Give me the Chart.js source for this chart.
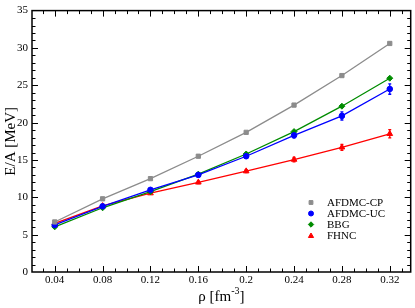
<!DOCTYPE html>
<html><head><meta charset="utf-8">
<script src="https://cdn.jsdelivr.net/npm/chart.js@4/dist/chart.umd.min.js"></script>
<style>html,body{margin:0;padding:0;background:#fff}#w{width:415px;height:308px}</style>
</head><body><div id="w"><canvas id="c" width="415" height="308"></canvas></div>
<script>
const density = [0.04, 0.08, 0.12, 0.16, 0.20, 0.24, 0.28, 0.32];
const afdmcCP = [6.7, 9.8, 12.5, 15.5, 18.7, 22.35, 26.3, 30.6];
const afdmcUC = [6.3, 8.8, 11.0, 13.0, 15.5, 18.3, 20.9, 24.5];
const afdmcUCErr = [0.05, 0.1, 0.15, 0.2, 0.25, 0.35, 0.55, 0.7];
const bbg = [6.05, 8.6, 10.75, 13.1, 15.8, 18.8, 22.2, 25.95];
const fhnc = [6.5, 8.85, 10.55, 12.0, 13.5, 15.05, 16.7, 18.5];
const fhncErr = [0.05, 0.1, 0.1, 0.15, 0.2, 0.3, 0.4, 0.55];
const xTicks = [0.04, 0.08, 0.12, 0.16, 0.2, 0.24, 0.28, 0.32];
const yTicks = [0, 5, 10, 15, 20, 25, 30, 35];
const seriesNames = ['AFDMC-CP', 'AFDMC-UC', 'BBG', 'FHNC'];

const SERIF = '"Liberation Serif", "DejaVu Serif", serif';
const pts = a => density.map((x, i) => ({x, y: a[i]}));
const ds = (label, data, color, style, r, err) => ({
  label, data: pts(data), borderColor: color, backgroundColor: color,
  pointStyle: style, pointRadius: r, pointHoverRadius: r, borderWidth: 1.3,
  pointBorderWidth: 1, tension: 0, fill: false, err
});
const datasets = [
  ds(seriesNames[0], afdmcCP, '#8c8c8c', 'rect', 3, null),
  ds(seriesNames[1], afdmcUC, '#0000ff', 'circle', 2.8, afdmcUCErr),
  ds(seriesNames[2], bbg, '#008c00', 'rectRot', 3, null),
  ds(seriesNames[3], fhnc, '#ff0000', 'triangle', 3.3, fhncErr)
];

const deco = {
  id: 'deco',
  beforeDatasetsDraw(chart) {
    const ctx = chart.ctx;
    const xs = chart.scales.x, ys = chart.scales.y;
    ctx.save();
    chart.data.datasets.forEach(d => {
      if (!d.err) return;
      ctx.strokeStyle = d.borderColor; ctx.lineWidth = 1.3;
      d.data.forEach((p, i) => {
        const px = xs.getPixelForValue(p.x);
        const y1 = ys.getPixelForValue(p.y - d.err[i]);
        const y2 = ys.getPixelForValue(p.y + d.err[i]);
        ctx.beginPath();
        ctx.moveTo(px, y1); ctx.lineTo(px, y2);
        ctx.moveTo(px - 1.5, y1); ctx.lineTo(px + 1.5, y1);
        ctx.moveTo(px - 1.5, y2); ctx.lineTo(px + 1.5, y2);
        ctx.stroke();
      });
    });
    ctx.restore();
  },
  afterDraw(chart) {
    const ctx = chart.ctx, ca = chart.chartArea;
    const xs = chart.scales.x, ys = chart.scales.y;
    ctx.save();
    ctx.strokeStyle = '#000'; ctx.lineWidth = 1.5;
    ctx.strokeRect(ca.left, ca.top, ca.right - ca.left, ca.bottom - ca.top);
    ctx.lineWidth = 1;
    ctx.beginPath();
    for (let k = 2; k <= 34; k++) {
      const v = k / 100;
      const px = Math.round(xs.getPixelForValue(v)) + 0.5;
      if (px < ca.left + 1 || px > ca.right - 1) continue;
      const len = (k % 4 === 0) ? 6 : 3.5;
      ctx.moveTo(px, ca.bottom); ctx.lineTo(px, ca.bottom - len);
      ctx.moveTo(px, ca.top); ctx.lineTo(px, ca.top + len);
    }
    for (let v = 0; v <= 35; v++) {
      const py = Math.round(ys.getPixelForValue(v)) + 0.5;
      if (py < ca.top + 1 || py > ca.bottom - 1) continue;
      const len = (v % 5 === 0) ? 6 : 3.5;
      ctx.moveTo(ca.left, py); ctx.lineTo(ca.left + len, py);
      ctx.moveTo(ca.right, py); ctx.lineTo(ca.right - len, py);
    }
    ctx.stroke();
    ctx.fillStyle = '#000';
    ctx.font = '15px ' + SERIF;
    ctx.textAlign = 'center'; ctx.textBaseline = 'middle';
    ctx.save();
    ctx.translate(11, (ca.top + ca.bottom) / 2);
    ctx.rotate(-Math.PI / 2);
    ctx.fillText('E/A [MeV]', 0, 0);
    ctx.restore();
    const main = 'ρ [fm', sup = '-3', end = ']';
    ctx.textAlign = 'left'; ctx.textBaseline = 'alphabetic';
    ctx.font = '15px ' + SERIF;
    const w1 = ctx.measureText(main).width;
    const w3 = ctx.measureText(end).width;
    ctx.font = '10px ' + SERIF;
    const w2 = ctx.measureText(sup).width;
    const x0 = (ca.left + ca.right) / 2 - (w1 + w2 + w3) / 2;
    const by = 301;
    ctx.font = '15px ' + SERIF; ctx.fillText(main, x0, by);
    ctx.font = '10px ' + SERIF; ctx.fillText(sup, x0 + w1, by - 7);
    ctx.font = '15px ' + SERIF; ctx.fillText(end, x0 + w1 + w2, by);
    ctx.font = '11px ' + SERIF; ctx.textBaseline = 'middle';
    const ly = [202.5, 213.5, 224.5, 236];
    chart.data.datasets.forEach((d, i) => {
      const sx = 311, sy = ly[i];
      ctx.fillStyle = d.backgroundColor; ctx.strokeStyle = d.borderColor; ctx.lineWidth = 1;
      Chart.helpers.drawPoint(ctx, {pointStyle: d.pointStyle, radius: d.pointRadius - 0.3, rotation: 0, borderWidth: 1}, sx, sy);
      ctx.fillStyle = '#000';
      ctx.fillText(d.label, 327, sy + 0.5);
    });
    ctx.restore();
  }
};

new Chart(document.getElementById('c'), {
  type: 'line',
  data: {datasets},
  options: {
    responsive: false, animation: false, devicePixelRatio: 1,
    layout: {padding: {top: 4, right: 4, left: 0, bottom: 0}},
    plugins: {legend: {display: false}, tooltip: {enabled: false}},
    scales: {
      x: {
        type: 'linear', min: 0.021, max: 0.3375,
        afterBuildTicks: s => { s.ticks = xTicks.map(v => ({value: v})); },
        afterFit: s => { s.height = 36; },
        grid: {display: false, drawTicks: false},
        border: {display: false},
        ticks: {color: '#000', padding: 2, maxRotation: 0, autoSkip: false,
          font: {family: SERIF, size: 11},
          callback: v => String(+(+v).toFixed(2))}
      },
      y: {
        type: 'linear', min: 0, max: 35,
        afterBuildTicks: s => { s.ticks = yTicks.map(v => ({value: v})); },
        afterFit: s => { s.width = 32; },
        grid: {display: false, drawTicks: false},
        border: {display: false},
        ticks: {color: '#000', padding: 4, autoSkip: false,
          font: {family: SERIF, size: 11}}
      }
    }
  },
  plugins: [deco]
});
</script></body></html>
